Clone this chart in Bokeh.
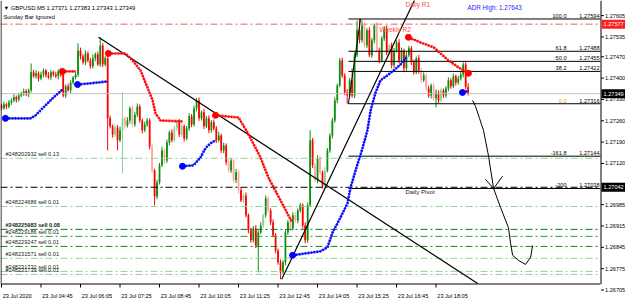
from bokeh.plotting import figure
from bokeh.models import Range1d
from bokeh.embed import file_html
from bokeh.resources import INLINE
from bokeh.core.properties import value

FONT = "Liberation Sans"

# ---------------- data ----------------
time_labels = ["23 Jul 2020", "23 Jul 04:45", "23 Jul 06:05", "23 Jul 07:25", "23 Jul 08:45",
               "23 Jul 10:05", "23 Jul 11:25", "23 Jul 12:45", "23 Jul 14:05", "23 Jul 15:25",
               "23 Jul 16:45", "23 Jul 18:05"]
time_label_bars = [0, 16, 32, 48, 64, 80, 96, 112, 128, 144, 160, 176]

price_ticks = [1.27605, 1.27535, 1.27470, 1.27400, 1.27330, 1.27260, 1.27190, 1.27120,
               1.26985, 1.26915, 1.26845, 1.26775, 1.26705]

# M5 closes in points (1e-5)
close_pts = [
    127301, 127314, 127307, 127320, 127327, 127337, 127330, 127343, 127350, 127357,
    127347, 127360, 127419, 127406, 127416, 127399, 127412, 127425, 127409, 127402,
    127419, 127412, 127406, 127422, 127412, 127343, 127373, 127360, 127386, 127402,
    127412, 127491, 127471, 127452, 127481, 127458, 127439, 127465, 127478, 127445,
    127507, 127445, 127465, 127268, 127242, 127215, 127238, 127196, 127229, 127268,
    127245, 127261, 127301, 127248, 127281, 127307, 127261, 127229, 127248, 127261,
    127176, 127097, 127012, 127058, 127114, 127163, 127130, 127189, 127222, 127196,
    127235, 127255, 127215, 127242, 127202, 127235, 127275, 127248, 127301, 127327,
    127268, 127288, 127242, 127268, 127229, 127255, 127235, 127196, 127212, 127163,
    127179, 127124, 127097, 127130, 127065, 127091, 127032, 126999, 127015, 126950,
    126901, 126868, 126907, 126851, 126894, 126917, 126950, 127006, 126966, 126927,
    126884, 126835, 126796, 126763, 126796, 126894, 126927, 126907, 126950, 126933,
    126966, 126983, 126917, 126868, 126983, 127196, 127114, 127065, 127137, 127091,
    127045, 127097, 127163, 127212, 127261, 127327, 127376, 127458, 127409, 127353,
    127343, 127393, 127343, 127475, 127557, 127524, 127573, 127507, 127557, 127475,
    127524, 127573, 127491, 127458, 127530, 127563, 127484, 127507, 127442, 127491,
    127517, 127458, 127491, 127432, 127475, 127498, 127452, 127419, 127465, 127425,
    127393, 127409, 127366, 127343, 127376, 127334, 127353, 127327, 127360, 127343,
    127366, 127393, 127373, 127406, 127386, 127399, 127412, 127445, 127371, 127349,
]
first_open_pts = 127310
up_wick_pts = [
    6, 9, 5, 8, 7, 10, 6, 8, 5, 9,
    7, 6, 29, 8, 10, 6, 9, 7, 5, 11,
    8, 6, 9, 7, 10, 8, 6, 9, 7, 5,
    8, 23, 9, 6, 10, 7, 8, 12, 6, 9,
    27, 8, 7, 16, 9, 6, 10, 8, 12, 85,
    7, 11, 6, 9, 8, 10, 7, 6, 9, 8,
    7, 10, 6, 9, 8, 12, 7, 9, 6, 10,
    8, 7, 11, 9, 6, 8, 10, 7, 9, 7,
    9, 6, 11, 8, 10, 7, 9, 8, 12, 6,
    9, 7, 10, 8, 6, 11, 7, 9, 8, 10,
    6, 9, 8, 11, 7, 10, 6, 9, 8, 7,
    10, 8, 6, 9, 7, 11, 8, 6, 10, 9,
    7, 8, 6, 10, 9, 33, 8, 7, 10, 9,
    6, 11, 8, 7, 9, 10, 6, 8, 9, 7,
    11, 8, 39, 9, 32, 37, 17, 9, 7, 10,
    8, 6, 11, 9, 7, 8, 10, 6, 9, 8,
    7, 11, 9, 6, 10, 8, 7, 9, 6, 11,
    8, 10, 7, 9, 6, 8, 10, 7, 9, 6,
    8, 10, 7, 9, 6, 8, 11, 7, 9, 12,
]
dn_wick_pts = [
    7, 5, 9, 6, 8, 6, 10, 7, 5, 8,
    6, 9, 7, 5, 8, 10, 6, 9, 7, 6,
    9, 7, 6, 10, 8, 6, 8, 5, 9, 7,
    6, 8, 10, 7, 9, 6, 8, 7, 10, 6,
    8, 9, 6, 105, 7, 10, 8, 33, 6, 141,
    9, 7, 10, 6, 8, 9, 7, 10, 6, 8,
    10, 8, 29, 9, 7, 6, 10, 8, 9, 7,
    6, 9, 8, 7, 10, 6, 8, 9, 7, 10,
    8, 7, 9, 6, 10, 8, 7, 9, 6, 8,
    9, 10, 6, 8, 7, 9, 11, 6, 8, 7,
    10, 8, 7, 9, 88, 6, 10, 8, 7, 9,
    6, 9, 8, 23, 7, 10, 8, 9, 6, 8,
    9, 7, 10, 10, 8, 6, 9, 7, 10, 8,
    7, 9, 6, 8, 10, 7, 9, 6, 8, 9,
    27, 8, 7, 9, 6, 10, 8, 7, 9, 6,
    8, 10, 7, 9, 6, 8, 9, 7, 10, 8,
    7, 9, 6, 10, 8, 7, 9, 8, 6, 10,
    8, 6, 9, 7, 10, 8, 30, 9, 7, 8,
    7, 9, 8, 6, 10, 8, 7, 9, 8, 6,
]
pale_bars = [46, 49, 50, 53, 61, 66, 70, 71, 73, 92, 94, 96, 98, 106, 108, 117, 119,
             127, 129, 131, 147, 152, 157, 170, 172, 175, 178]

header_text = "\u25bc GBPUSD.M5  1.27371 1.27383 1.27343 1.27349"
sub_text = "Sunday Bar Ignored"
weekly_r2 = 1.27577
bid_price = 1.27349
daily_pivot = 1.27042
adr_text = "ADR High: 1.27643"

fib_names = ["100.0", "61.8", "50.0", "38.2", "0.0", "-161.8", "-200"]
fib_values = [1.27594, 1.27488, 1.27455, 1.27422, 1.27316, 1.27144, 1.27038]
fib_start_bar = 140.5
fib_diag_bars = [140.5, 145.4]
fib_diag_prices = [1.27316, 1.27594]

order_labels = ["#248202932 sell 0.13", "#248224686 sell 0.01", "#248225983 sell 0.08",
                "#248229186 sell 0.01", "#248229247 sell 0.01", "#248231571 sell 0.01",
                "#248231732 sell 0.01", "#248231739 sell 0.01"]
order_prices = [1.27137, 1.26979, 1.26904, 1.26881, 1.26848, 1.26809, 1.26766, 1.26756]

tl1_bars = [39.3, 185.9]
tl1_prices = [1.27534, 1.26763]
tl2_bars = [113.5, 165.7]
tl2_prices = [1.26740, 1.27629]

red_bars = [[24.7, 27.3, 30.0],
            [43.3, 50.2, 53.1, 56.3, 59.1, 61.2, 62.4, 64.4, 73.3],
            [86.7, 96.0, 99.6, 104.9, 108.1, 113.0, 116.2, 117.5],
            [164.8, 169.7, 175.0, 180.6, 185.1, 189.1]]
red_prices = [[1.27422, 1.27422, 1.27422],
              [1.27481, 1.27481, 1.27458, 1.27425, 1.27370, 1.27327, 1.27284, 1.27261, 1.27258],
              [1.27278, 1.27271, 1.27222, 1.27140, 1.27074, 1.26999, 1.26950, 1.26930],
              [1.27534, 1.27517, 1.27501, 1.27461, 1.27435, 1.27416]]
blue_bars = [[1.6, 11.7, 13.8, 17.0, 21.1, 24.7],
             [30.8, 36.0, 42.9],
             [73.3, 77.8, 80.6, 82.6, 84.6, 86.7],
             [117.9, 129.2, 132.0, 134.1, 137.3, 140.1, 141.4, 143.4, 146.2, 148.2, 149.5,
              151.5, 153.5, 156.3, 158.8, 161.6, 164.0],
             [186.7, 188.7]]
blue_prices = [[1.27268, 1.27268, 1.27278, 1.27304, 1.27337, 1.27363],
               [1.27379, 1.27383, 1.27389],
               [1.27111, 1.27114, 1.27140, 1.27170, 1.27186, 1.27196],
               [1.26819, 1.26832, 1.26845, 1.26894, 1.26943, 1.26989, 1.27042, 1.27097, 1.27170,
                1.27229, 1.27294, 1.27353, 1.27393, 1.27409, 1.27425, 1.27445, 1.27468],
               [1.27353, 1.27357]]

hand_bars = [190.8, 192.0, 193.6, 195.2, 197.2, 199.3, 202.1, 205.3, 206.2, 207.0, 209.4, 212.2, 214.3, 215.1]
hand_prices = [1.27327, 1.27307, 1.27268, 1.27229, 1.27147, 1.27038, 1.26976, 1.26910,
               1.26858, 1.26819, 1.26802, 1.26789, 1.26812, 1.26851]
arrow_bars = [196.0, 199.3, 202.9]
arrow_prices = [1.27068, 1.27038, 1.27078]

# ---------------- geometry of the chart window ----------------
W, H = 625, 303            # canvas
CW, CH = 600, 283          # chart area (price pane)
X0, X1 = -0.405, 242.6     # bars visible in chart area
Y_TOP, Y_BOT = 1.276546, 1.267264
PXB = CW / (X1 - X0)       # px per bar
PPX = (Y_TOP - Y_BOT) / CH # price per px
XE = X0 + W / PXB
YE = Y_TOP - H * PPX

def bx(px):   # screen x -> bar
    return X0 + px / PXB

def py(px):   # screen y -> price
    return Y_TOP - px * PPX

p = figure(frame_width=W, frame_height=H, min_border=0, toolbar_location=None,
           output_backend="svg", x_range=Range1d(X0, XE), y_range=Range1d(YE, Y_TOP),
           x_axis_location=None, y_axis_location=None)
p.grid.visible = False
p.outline_line_color = None
p.background_fill_color = "white"
p.border_fill_color = "white"

# candles
n = len(close_pts)
idx = list(range(n))
closes = [c / 1e5 for c in close_pts]
opens = [first_open_pts / 1e5] + closes[:-1]
highs = [max(o, c) + u / 1e5 for o, c, u in zip(opens, closes, up_wick_pts)]
lows = [min(o, c) - d / 1e5 for o, c, d in zip(opens, closes, dn_wick_pts)]
cols = []
for i, (o, c) in enumerate(zip(opens, closes)):
    bull = c >= o
    if i in pale_bars:
        cols.append("#8fd08f" if bull else "#ffa3a3")
    else:
        cols.append("#0c8f0c" if bull else "#ff0000")
tops = [max(o, c) for o, c in zip(opens, closes)]
bots = [min(o, c) - (0.00001 if abs(o - c) < 0.00001 else 0) for o, c in zip(opens, closes)]
p.segment(x0=idx, y0=lows, x1=idx, y1=highs, line_color=cols, line_width=1)
p.vbar(x=idx, top=tops, bottom=bots, width=0.72, fill_color=cols, line_color=None)

# horizontal lines
DASH = "7 3 2 3"
p.line([X0, X1], [bid_price, bid_price], line_color="#c0c0c0", line_width=1)
p.line([X0, X1], [weekly_r2, weekly_r2], line_color="#ff5a5a", line_width=1, line_dash=DASH)
p.line([X0, X1], [daily_pivot, daily_pivot], line_color="black", line_width=1, line_dash=DASH)
order_cols = ["#93d493", "#93d493", "#0a7a0a", "#2e9e2e", "#138a13", "#93d493", "#93d493", "#93d493"]
for pr, c in zip(order_prices, order_cols):
    p.line([X0, X1], [pr, pr], line_color=c, line_width=1, line_dash=DASH)

# fibonacci
for v in fib_values:
    p.line([fib_start_bar, X1], [v, v], line_color="black", line_width=1)
p.line(fib_diag_bars, fib_diag_prices, line_color="black", line_width=1)
fib_name_cols = ["black", "black", "black", "black", "#dca000", "black", "black"]
p.text(x=[bx(566)] * len(fib_names), y=fib_values, text=fib_names, text_font=value(FONT),
       text_font_size="5.6px", text_align="right", text_baseline="bottom", y_offset=-1,
       text_color=fib_name_cols)
p.text(x=[bx(599)] * len(fib_values), y=fib_values, text=[f"{v:.5f}" for v in fib_values],
       text_font=value(FONT), text_font_size="5.6px", text_align="right",
       text_baseline="bottom", y_offset=-1, text_color="black")

# trend lines (extended, cut at the chart area)
def extend(bxs, pys, xa_, xb_):
    s = (pys[1] - pys[0]) / (bxs[1] - bxs[0])
    return [xa_, xb_], [pys[0] + s * (xa_ - bxs[0]), pys[0] + s * (xb_ - bxs[0])]

s1 = (tl1_prices[1] - tl1_prices[0]) / (tl1_bars[1] - tl1_bars[0])
x_cut = tl1_bars[0] + (Y_BOT - tl1_prices[0]) / s1
ex, ey = extend(tl1_bars, tl1_prices, tl1_bars[0], min(x_cut, X1))
p.line(ex, ey, line_color="black", line_width=1.2)
ex, ey = extend(tl2_bars, tl2_prices, tl2_bars[0], 175)
p.line(ex, ey, line_color="black", line_width=1.2)

# indicator dots
for bxs, pys in zip(red_bars, red_prices):
    p.line(bxs, pys, line_color="#ff0000", line_width=1)
    p.line(bxs, pys, line_color="#ff1010", line_width=2.6, line_dash="2 1")
    p.scatter([bxs[0]], [pys[0]], size=6, color="#ff0000")
p.scatter([red_bars[-1][-1]], [red_prices[-1][-1]], size=6, color="#ff0000")
for bxs, pys in zip(blue_bars, blue_prices):
    p.line(bxs, pys, line_color="#0000ff", line_width=1)
    p.line(bxs, pys, line_color="#1010ff", line_width=2.6, line_dash="2 1")
    p.scatter([bxs[0]], [pys[0]], size=6, color="#0000ff")

# hand drawn path
p.line(hand_bars, hand_prices, line_color="black", line_width=1)
p.line(arrow_bars, arrow_prices, line_color="black", line_width=1)

# order labels
p.text(x=[bx(5)] * len(order_labels), y=order_prices, text=order_labels, text_font=value(FONT),
       text_font_size="5.6px", text_align="left", text_baseline="bottom", y_offset=-1,
       text_color="#222222",
       text_font_style=["normal", "normal", "bold", "normal", "normal", "normal", "normal", "normal"])

# texts
def txt(x, y, s, size, color="black", align="left", baseline="middle", yoff=0):
    p.text(x=[x], y=[y], text=[s], text_font=value(FONT), text_font_size=size,
           text_color=color, text_align=align, text_baseline=baseline, y_offset=yoff)

txt(bx(3), py(7), header_text, "5.8px")
txt(bx(3), py(16.5), sub_text, "5.8px")
txt(bx(467), py(7), adr_text, "6.3px", color="#2222ff")
txt(bx(379), weekly_r2, "Weekly R2", "6.5px", color="#ff4a4a", baseline="top", yoff=2)
txt(bx(405), py(4), "Daily R1", "6.5px", color="#ff4a4a", baseline="middle")
txt(bx(405), daily_pivot, "Daily Pivot", "6.2px", color="#222222", baseline="top", yoff=1)

# ---------------- hand-made axes ----------------
# frame lines
p.line([bx(0.5), bx(0.5)], [Y_TOP, Y_BOT], line_color="black", line_width=1)
p.line([X0, X1], [py(283.5), py(283.5)], line_color="black", line_width=1)
p.line([bx(600.5), bx(600.5)], [Y_TOP, py(283.5)], line_color="black", line_width=1)

# price axis
p.segment(x0=[bx(600.5)] * len(price_ticks), x1=[bx(603.5)] * len(price_ticks),
          y0=price_ticks, y1=price_ticks, line_color="black", line_width=1)
p.text(x=[bx(604.5)] * len(price_ticks), y=price_ticks, text=[f"{v:.5f}" for v in price_ticks],
       text_font=value(FONT), text_font_size="5.6px", text_align="left", text_baseline="middle",
       text_color="black")

# price boxes
box_vals = [weekly_r2, bid_price, daily_pivot]
box_cols = ["#ff2020", "black", "black"]
p.quad(left=[bx(601)] * 3, right=[bx(625)] * 3,
       top=[v + 4.5 * PPX for v in box_vals], bottom=[v - 4.5 * PPX for v in box_vals],
       fill_color=box_cols, line_color=None)
p.text(x=[bx(603)] * 3, y=box_vals, text=[f"{v:.5f}" for v in box_vals], text_font=value(FONT),
       text_font_size="5.6px", text_align="left", text_baseline="middle", text_color="white")

# time axis
tick_x = [b for b in time_label_bars]
p.segment(x0=tick_x, x1=tick_x, y0=[py(283.5)] * len(tick_x), y1=[py(287)] * len(tick_x),
          line_color="black", line_width=1)
p.text(x=[b + 0.5 for b in tick_x], y=[py(295.5)] * len(tick_x), text=time_labels,
       text_font=value(FONT), text_font_size="5.6px", text_align="left", text_baseline="middle",
       text_color="black")

open("out.html", "w").write(file_html(p, INLINE))
